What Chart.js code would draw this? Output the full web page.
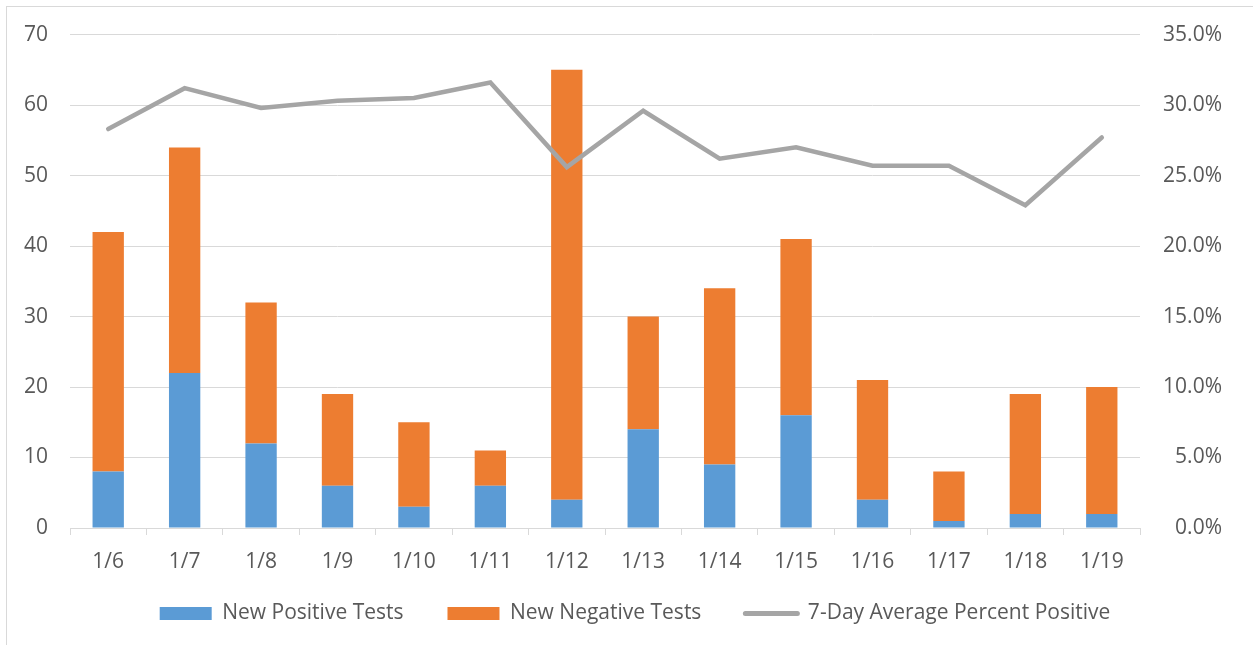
<!DOCTYPE html>
<html lang="en">
<head>
    <meta charset="UTF-8">
    <title>Tests and 7-Day Average Percent Positive</title>
    <script src="https://cdn.jsdelivr.net/npm/chart.js"></script>
    <style>
        html, body { margin: 0; padding: 0; background: #fff; overflow: hidden; }
        #frame { position: absolute; left: 6px; top: 6px; width: 1260px; height: 660px; border: 1px solid #d9d9d9; }
        #wrap { position: absolute; left: 0; top: 0; width: 1253px; height: 645px; }
    </style>
</head>
<body>
    <div id="frame"></div>
    <div id="wrap"><canvas id="testsChart" width="1253" height="645"></canvas></div>

    <script>
        // values
        const days = ['1/6', '1/7', '1/8', '1/9', '1/10', '1/11', '1/12', '1/13', '1/14', '1/15', '1/16', '1/17', '1/18', '1/19'];
        const positiveTests = [8, 22, 12, 6, 3, 6, 4, 14, 9, 16, 4, 1, 2, 2];
        const negativeTests = [34, 32, 20, 13, 12, 5, 61, 16, 25, 25, 17, 7, 17, 18];
        const avgPercentPositive = [28.3, 31.2, 29.8, 30.3, 30.5, 31.6, 25.6, 29.6, 26.2, 27.0, 25.7, 25.7, 22.9, 27.7];

        const textColor = '#595959';
        const gridColor = '#d9d9d9';
        const font = { family: 'Open Sans', size: 21 };

        // move the legend row a bit to the right and up, like the original
        const legendNudge = {
            id: 'legendNudge',
            afterLayout(chart) {
                const lg = chart.legend;
                const dy = 559 - lg.top;
                lg.top += dy;
                lg.bottom += dy;
                lg.left += 21;
                lg.right += 21;
            }
        };

        const ctx = document.getElementById('testsChart').getContext('2d');
        new Chart(ctx, {
            type: 'bar',
            data: {
                labels: days,
                datasets: [
                    {
                        label: 'New Positive Tests',
                        data: positiveTests,
                        backgroundColor: '#5b9bd5',
                        stack: 'tests',
                        order: 1,
                        yAxisID: 'y'
                    },
                    {
                        label: 'New Negative Tests',
                        data: negativeTests,
                        backgroundColor: '#ed7d31',
                        stack: 'tests',
                        order: 1,
                        yAxisID: 'y'
                    },
                    {
                        type: 'line',
                        label: '7-Day Average Percent Positive',
                        data: avgPercentPositive,
                        borderColor: '#a5a5a5',
                        borderWidth: 4.5,
                        borderCapStyle: 'round',
                        pointRadius: 0,
                        tension: 0,
                        order: 0,
                        yAxisID: 'y1'
                    }
                ]
            },
            plugins: [legendNudge],
            options: {
                responsive: false,
                animation: false,
                layout: { padding: { left: 6, right: 31, top: 31, bottom: -6 } },
                datasets: { bar: { barPercentage: 0.41, categoryPercentage: 1 } },
                scales: {
                    x: {
                        stacked: true,
                        afterFit: s => { s.height = 48; },
                        grid: { display: true, drawOnChartArea: false, drawTicks: true, tickLength: 7, color: gridColor },
                        border: { display: true, color: gridColor },
                        ticks: { color: textColor, font: font, padding: 14, maxRotation: 0 }
                    },
                    y: {
                        stacked: true,
                        min: 0,
                        max: 70,
                        position: 'left',
                        afterFit: s => { s.width = 64; },
                        grid: { color: gridColor, drawTicks: false },
                        border: { display: false },
                        ticks: { stepSize: 10, color: textColor, font: font, padding: 22 }
                    },
                    y1: {
                        min: 0,
                        max: 35,
                        position: 'right',
                        afterFit: s => { s.width = 82; },
                        grid: { drawOnChartArea: false, drawTicks: false },
                        border: { display: false },
                        ticks: {
                            stepSize: 5,
                            color: textColor,
                            font: font,
                            padding: 20,
                            crossAlign: 'far',
                            callback: v => v.toFixed(1) + '%'
                        }
                    }
                },
                plugins: {
                    tooltip: { enabled: false },
                    legend: {
                        position: 'bottom',
                        labels: {
                            color: textColor,
                            font: { family: 'Open Sans', size: 21 },
                            usePointStyle: true,
                            pointStyleWidth: 52,
                            boxHeight: 13,
                            padding: 44,
                            generateLabels: chart => chart.data.datasets.map((ds, i) => {
                                const isLine = ds.type === 'line';
                                return {
                                    text: ds.label,
                                    datasetIndex: i,
                                    fontColor: textColor,
                                    fillStyle: isLine ? '#a5a5a5' : ds.backgroundColor,
                                    strokeStyle: isLine ? ds.borderColor : ds.backgroundColor,
                                    lineWidth: isLine ? 5 : 0,
                                    lineCap: 'round',
                                    pointStyle: isLine ? 'line' : 'rect',
                                    hidden: false
                                };
                            })
                        }
                    }
                }
            }
        });
    </script>
</body>
</html>
